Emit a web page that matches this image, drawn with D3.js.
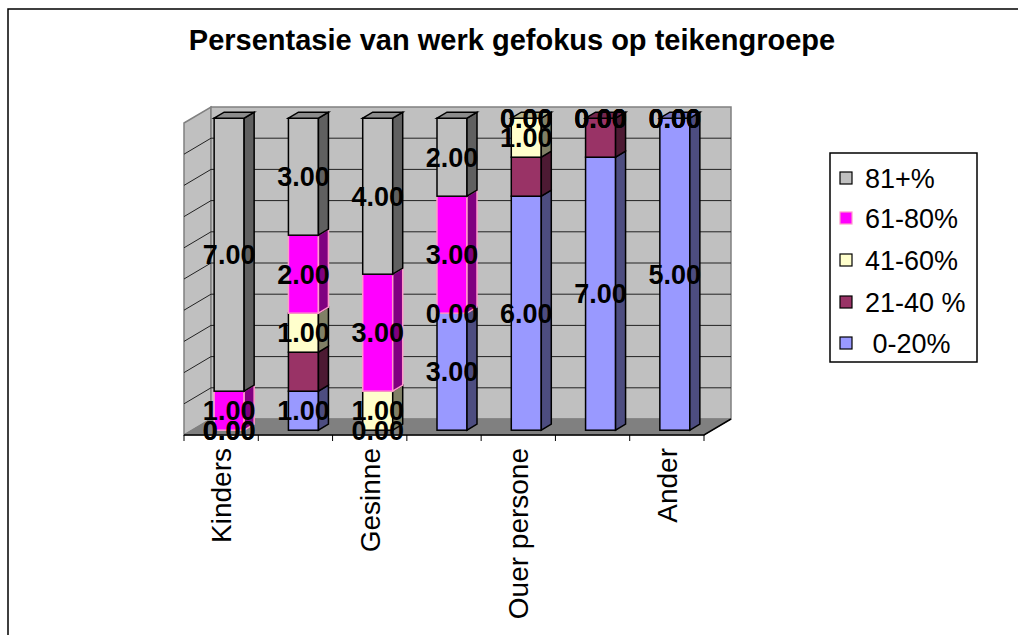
<!DOCTYPE html>
<html>
<head>
<meta charset="utf-8">
<script src="https://cdn.jsdelivr.net/npm/d3@7"></script>
<style>
  body { margin: 0; background: #fff; }
  text { font-family: Arial, "Liberation Sans", sans-serif; }
</style>
</head>
<body>
<svg id="chart"></svg>
<script>
// 3D 100% stacked columns, Excel style
var width = 1018;
var height = 635;

// data
var categories = ["Kinders", "", "Gesinne", "", "Ouer persone", "", "Ander"];
var seriesNames = ["0-20%", "21-40 %", "41-60%", "61-80%", "81+%"];
var v0_20  = [0, 1, 0, 3, 6, 7, 5];
var v21_40 = [0, 1, 0, 0, 1, 1, 0];
var v41_60 = [0, 1, 1, 0, 1, 0, 0];
var v61_80 = [1, 2, 3, 3, 0, 0, 0];
var v81    = [7, 3, 4, 2, 0, 0, 0];
var showLabel = [true, false, true, true, true];

var fills   = ["#9999FF", "#993366", "#FFFFCC", "#FF00FF", "#C0C0C0"];
var sides   = ["#4D4D80", "#4D1A33", "#808066", "#800080", "#606060"];
var tops    = ["#7373BF", "#73264D", "#B3B38F", "#BF00BF", "#8C8C8C"];
var strokes = ["#000", "#000", "#000", "#FF99CC", "#000"];

var cols = [v0_20, v21_40, v41_60, v61_80, v81];
var table = categories.map(function(c, i) {
    var row = { idx: i };
    seriesNames.forEach(function(s, j) { row[s] = cols[j][i]; });
    return row;
});

var stacked = d3.stack()
    .keys(seriesNames)
    .offset(d3.stackOffsetExpand)(table);

var svg = d3.select("svg#chart")
    .attr("width", width)
    .attr("height", height);

// outer chart border (only top/left visible)
svg.append("path")
    .attr("d", "M8,635 L8,9 L1018,9")
    .attr("fill", "none")
    .attr("stroke", "#000")
    .attr("stroke-width", 1.5);

svg.append("text")
    .attr("x", 512)
    .attr("y", 50)
    .attr("text-anchor", "middle")
    .attr("font-size", 29)
    .attr("font-weight", "bold")
    .text("Persentasie van werk gefokus op teikengroepe");

// front plane scales
var x = d3.scaleBand()
    .domain(d3.range(categories.length))
    .range([184, 704])
    .padding(0);

var y = d3.scaleLinear()
    .domain([0, 1])
    .range([435, 123]);

var depthX = 27, depthY = -16;      // wall depth
var barOffX = 8, barOffY = -4.8;    // bar front inside depth
var barDX = 10, barDY = -6;         // bar depth
var barW = 30;

var g = svg.append("g");

// side wall
g.append("polygon")
    .attr("points", [[184, y(1)], [184 + depthX, y(1) + depthY], [184 + depthX, y(0) + depthY], [184, y(0)]].join(" "))
    .attr("fill", "#C0C0C0")
    .attr("stroke", "#808080")
    .attr("stroke-width", 1.5);

// back wall
g.append("rect")
    .attr("x", 184 + depthX)
    .attr("y", y(1) + depthY)
    .attr("width", 704 - 184)
    .attr("height", y(0) - y(1))
    .attr("fill", "#C0C0C0")
    .attr("stroke", "#808080")
    .attr("stroke-width", 1.5);

// floor
g.append("polygon")
    .attr("points", [[184, y(0)], [184 + depthX, y(0) + depthY], [704 + depthX, y(0) + depthY], [704, y(0)]].join(" "))
    .attr("fill", "#808080")
    .attr("stroke", "#808080");

// gridlines
var ticks = d3.range(1, 10).map(function(d) { return d / 10; });
g.selectAll("line.grid")
    .data(ticks)
    .enter()
    .append("line")
    .attr("class", "grid")
    .attr("x1", 184 + depthX)
    .attr("x2", 704 + depthX)
    .attr("y1", function(d) { return y(d) + depthY; })
    .attr("y2", function(d) { return y(d) + depthY; })
    .attr("stroke", "#222")
    .attr("stroke-width", 1);

g.selectAll("line.sgrid")
    .data(ticks)
    .enter()
    .append("line")
    .attr("class", "sgrid")
    .attr("x1", 184)
    .attr("x2", 184 + depthX)
    .attr("y1", function(d) { return y(d); })
    .attr("y2", function(d) { return y(d) + depthY; })
    .attr("stroke", "#222")
    .attr("stroke-width", 1);

// floor front edge (axis) + ticks + right edge
g.append("path")
    .attr("d", "M184," + y(0) + " L704," + y(0) + " L" + (704 + depthX) + "," + (y(0) + depthY))
    .attr("fill", "none")
    .attr("stroke", "#000")
    .attr("stroke-width", 1.5);

var tickX = d3.range(categories.length + 1).map(function(i) { return 184 + i * x.step(); });
g.selectAll("line.tick")
    .data(tickX)
    .enter()
    .append("line")
    .attr("x1", function(d) { return d; })
    .attr("x2", function(d) { return d; })
    .attr("y1", y(0))
    .attr("y2", y(0) + 6)
    .attr("stroke", "#000");

// bars
var bars = g.append("g");
table.forEach(function(row, i) {
    var x0 = x(i) + x.bandwidth() / 2 - barW / 2 + barOffX;
    var x1 = x0 + barW;
    var lastTop = -1;
    stacked.forEach(function(s, j) {
        var d = s[i];
        if (d[1] - d[0] <= 0) return;
        lastTop = j;
        var yb = y(d[0]) + barOffY, yt = y(d[1]) + barOffY;
        bars.append("rect")
            .attr("x", x0).attr("y", yt)
            .attr("width", barW).attr("height", yb - yt)
            .attr("fill", fills[j])
            .attr("stroke", strokes[j])
            .attr("stroke-width", 1.5);
        bars.append("polygon")
            .attr("points", [[x1, yt], [x1 + barDX, yt + barDY], [x1 + barDX, yb + barDY], [x1, yb]].join(" "))
            .attr("fill", sides[j])
            .attr("stroke", strokes[j])
            .attr("stroke-width", 1.5);
    });
    if (lastTop >= 0) {
        var yt = y(1) + barOffY;
        bars.append("polygon")
            .attr("points", [[x0, yt], [x0 + barDX, yt + barDY], [x1 + barDX, yt + barDY], [x1, yt]].join(" "))
            .attr("fill", tops[lastTop])
            .attr("stroke", strokes[lastTop])
            .attr("stroke-width", 1.5);
    }
});

// data labels
stacked.forEach(function(s, j) {
    if (!showLabel[j]) return;
    g.selectAll("text.lab" + j)
        .data(s)
        .enter()
        .append("text")
        .attr("x", function(d, i) { return x(i) + x.bandwidth() / 2 + barOffX; })
        .attr("y", function(d) { return y((d[0] + d[1]) / 2) + barOffY; })
        .attr("dy", "0.36em")
        .attr("text-anchor", "middle")
        .attr("font-size", 27)
        .attr("font-weight", "bold")
        .text(function(d, i) { return d3.format(".2f")(cols[j][i]); });
});

// category labels
g.selectAll("text.cat")
    .data(categories)
    .enter()
    .append("text")
    .attr("transform", function(d, i) {
        return "translate(" + (x(i) + x.bandwidth() / 2) + "," + 448 + ") rotate(-90)";
    })
    .attr("text-anchor", "end")
    .attr("dy", "0.36em")
    .attr("font-size", 28)
    .text(function(d) { return d; });

// legend
var legend = svg.append("g");
legend.append("rect")
    .attr("x", 830).attr("y", 153)
    .attr("width", 147).attr("height", 209)
    .attr("fill", "#fff")
    .attr("stroke", "#000")
    .attr("stroke-width", 1.5);

var legendY = [343, 302, 260, 218, 178];
seriesNames.forEach(function(s, j) {
    legend.append("rect")
        .attr("x", 840).attr("y", legendY[j] - 6)
        .attr("width", 12).attr("height", 12)
        .attr("fill", fills[j])
        .attr("stroke", strokes[j])
        .attr("stroke-width", 1.2);
    legend.append("text")
        .attr("x", 865)
        .attr("y", legendY[j])
        .attr("dy", "0.36em")
        .attr("font-size", 27)
        .attr("xml:space", "preserve")
        .style("white-space", "pre")
        .text(j === 0 ? " " + s : s);
});
</script>
</body>
</html>
